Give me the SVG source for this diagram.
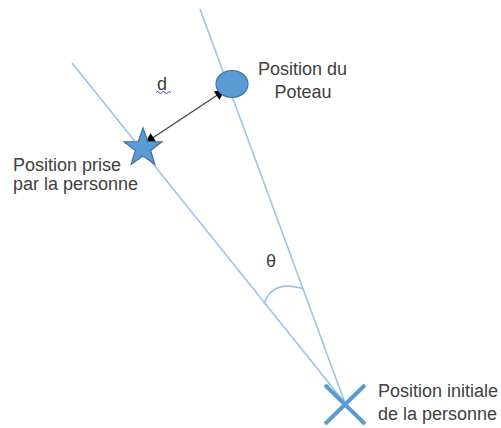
<svg xmlns="http://www.w3.org/2000/svg" width="501" height="428" viewBox="0 0 501 428">
<defs>
<style>
.ray{stroke:#9dc3e6;stroke-width:1.6;fill:none}
.lbl{font-family:"Liberation Sans",Arial,sans-serif;font-size:18px;fill:#404040}
.shape{fill:#5b9bd5;stroke:#41719c;stroke-width:1.2}
</style>
<marker id="ah" viewBox="0 0 10 10" refX="10" refY="5" markerWidth="14" markerHeight="10" markerUnits="userSpaceOnUse" orient="auto-start-reverse">
<path d="M0,0 L10,5 L0,10 z" fill="#000"/>
</marker>
</defs>
<rect width="501" height="428" fill="#fff"/>
<g id="connectors">
<line class="ray" x1="72" y1="63" x2="345" y2="403"/>
<line class="ray" x1="200" y1="9" x2="345" y2="403"/>
<path class="ray" d="M264,304 Q272,279 304,289"/>
<line x1="145" y1="143" x2="225" y2="90" stroke="#404040" stroke-width="1.2" marker-start="url(#ah)" marker-end="url(#ah)"/>
</g>
<g id="poteau">
<ellipse class="shape" cx="232" cy="84" rx="16" ry="13.5"/>
<text class="lbl" x="258" y="75">Position du</text>
<text class="lbl" x="303" y="98" text-anchor="middle">Poteau</text>
</g>
<g id="position-prise">
<polygon class="shape" points="143,128 147.7,141.5 162,141.8 150.6,150.5 154.8,164.2 143,156 131.2,164.2 135.4,150.5 124,141.8 138.3,141.5"/>
<text class="lbl" x="13" y="171">Position prise</text>
<text class="lbl" x="13" y="190">par la personne</text>
</g>
<g id="position-initiale">
<path d="M325,385 L365,424 M365,385 L325,424" stroke="#5b9bd5" stroke-width="4" fill="none"/>
<text class="lbl" x="378" y="397">Position initiale</text>
<text class="lbl" x="378" y="420">de la personne</text>
</g>
<g id="d-label">
<text class="lbl" x="157" y="90" fill="#333">d</text>
<path d="M156,92.5 q1.5,-2 3,0 t3,0 t3,0 t3,0 t3,0" stroke="#3b3bff" stroke-width="1" fill="none"/>
</g>
<g id="theta-label">
<text class="lbl" x="271" y="267" text-anchor="middle" fill="#333">θ</text>
</g>
</svg>
